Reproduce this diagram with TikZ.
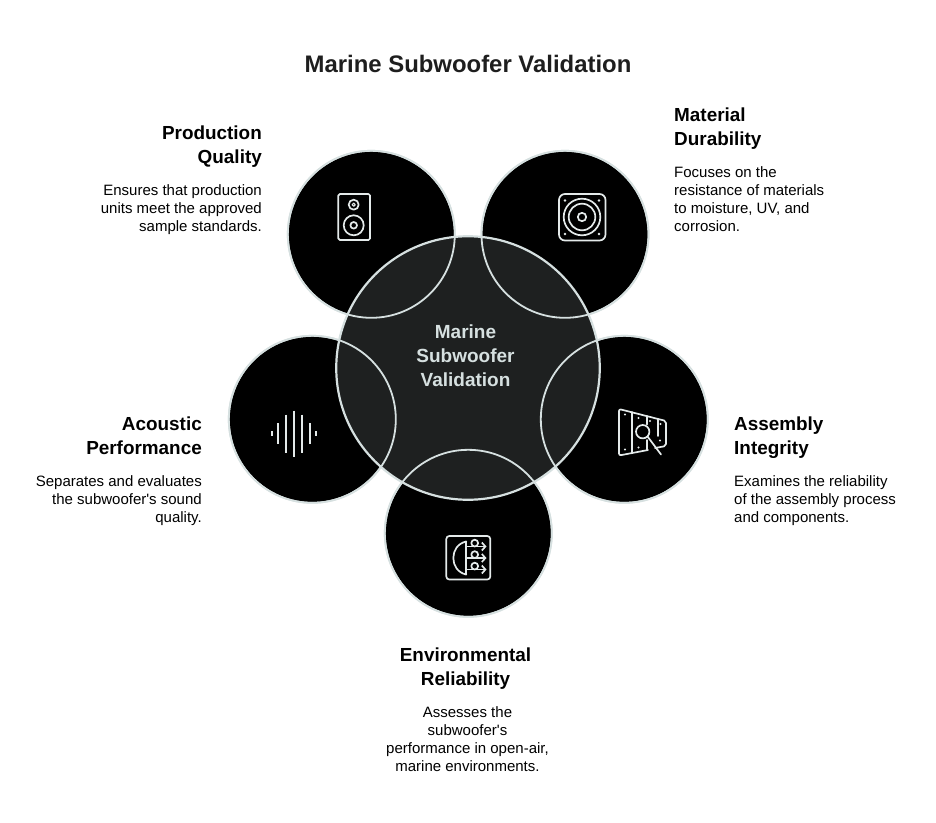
\documentclass[tikz,border=0pt]{standalone}
\usepackage{fontspec}
\setmainfont{Liberation Sans}
\usetikzlibrary{arrows.meta}
\definecolor{ring}{HTML}{D6E0E0}
\definecolor{hub}{HTML}{1E2020}
\definecolor{ink}{HTML}{1E1E1E}
\definecolor{iconc}{HTML}{E4EAEA}
\tikzset{
 petal/.style={circle,draw=ring,line width=1.8pt,fill=black,minimum size=167pt,inner sep=0pt},
 petalline/.style={circle,draw=ring,line width=1.8pt,minimum size=167pt,inner sep=0pt},
 hubc/.style={circle,draw=ring,line width=2.2pt,fill=hub,minimum size=263.5pt,inner sep=0pt},
 head/.style={font=\fontsize{18.9}{24}\selectfont\bfseries,text=black,inner sep=0pt},
 desc/.style={font=\fontsize{15}{18}\selectfont,text=black,inner sep=0pt},
 ico/.style={draw=iconc,line width=1.7pt,line cap=round,line join=round},
 dot/.style={fill=iconc,draw=none},
}
\begin{document}
\begin{tikzpicture}[x=1pt,y=-1pt]
\useasboundingbox (0,0) rectangle (936,822);
\fill[white] (0,0) rectangle (936,822);
\node[font=\fontsize{23.9}{28}\selectfont\bfseries,text=ink,inner sep=0pt] (title) at (468,64) {Marine Subwoofer Validation};
% petals
\node[petal] (pq) at (371.3,234.3) {};
\node[petal] (md) at (565,234.3) {};
\node[petal] (ai) at (624.3,419.3) {};
\node[petal] (er) at (468.3,533.3) {};
\node[petal] (ap) at (312.3,419.3) {};
\node[hubc] (hub) at (468,368) {};
\node[petalline] (pqo) at (pq) {};
\node[petalline] (mdo) at (md) {};
\node[petalline] (aio) at (ai) {};
\node[petalline] (ero) at (er) {};
\node[petalline] (apo) at (ap) {};
\node[font=\fontsize{19}{24}\selectfont\bfseries,text=ring,align=center,inner sep=0pt] (hubt) at (465.5,355.3) {Marine\\Subwoofer\\Validation};
% texts
\node[head,align=right,anchor=north east] (pqh) at (262,126) {Production\\Quality};
\node[desc,align=right,anchor=north east] (pqd) at (262,184.5) {Ensures that production\\units meet the approved\\sample standards.};
\node[head,align=left,anchor=north west] (mdh) at (674,108) {Material\\Durability};
\node[desc,align=left,anchor=north west] (mdd) at (674,166.5) {Focuses on the\\resistance of materials\\to moisture, UV, and\\corrosion.};
\node[head,align=left,anchor=north west] (aih) at (734,417) {Assembly\\Integrity};
\node[desc,align=left,anchor=north west] (aid) at (734,475.5) {Examines the reliability\\of the assembly process\\and components.};
\node[head,align=right,anchor=north east] (aph) at (202,417) {Acoustic\\Performance};
\node[desc,align=right,anchor=north east] (apd) at (202,475.5) {Separates and evaluates\\the subwoofer\textquotesingle s sound\\quality.};
\node[head,align=center,anchor=north] (erh) at (465.5,648) {Environmental\\Reliability};
\node[desc,align=center,anchor=north] (erd) at (467.5,706.5) {Assesses the\\subwoofer\textquotesingle s\\performance in open-air,\\marine environments.};
% speaker icon
\draw[ico,rounded corners=1.5pt] (338.3,194) rectangle (370,240);
\draw[ico] (353.7,204.7) circle (5);
\draw[ico,line width=1.1pt] (353.7,204.7) circle (1.6);
\draw[ico] (353.7,225.3) circle (10);
\draw[ico] (353.7,225.3) circle (3.3);
% woofer icon
\draw[ico,rounded corners=6pt] (559,194) rectangle (605.5,240.5);
\draw[ico] (582,217) circle (18.3);
\draw[ico] (582,217) circle (13.3);
\draw[ico] (582,217) circle (4.2);
\foreach \a/\b in {565/200.5,599/200.5,565/234,599/234}{\fill[dot] (\a,\b) circle (1.3);}
% xylophone icon
\draw[ico,rounded corners=2pt] (648,450) -- (619,455.5) -- (619,409) -- (666,421) -- (666,446) -- (655,448);
\draw[ico] (631.7,412) -- (631.7,453);
\draw[ico] (646.7,416) -- (646.7,424.5);
\draw[ico] (646.7,440) -- (646.7,450);
\draw[ico] (658.3,419) -- (658.3,436);
\draw[ico] (642.7,431.7) circle (6.7);
\draw[ico] (647.5,436.5) -- (661,454.5);
\foreach \a/\b in {625/414.5,625/449.5,638.5/418,638.5/447.5,650/421,660.5/424,660/440.5}{\fill[dot] (\a,\b) circle (1.2);}
% splitter icon
\draw[ico,rounded corners=3pt] (446.3,536) rectangle (490.3,579.5);
\draw[ico] (466.3,541.5) -- (466.3,574.5);
\draw[ico] (466.3,541.5) .. controls (449,545) and (449,571) .. (466.3,574.5);
\foreach \y in {546.5,558,569.5}{
 \draw[ico,-{Straight Barb[length=3.5pt,width=8pt]}] (466.3,\y) -- (486.5,\y);
 \draw[ico] (474.7,\y-3.4) circle (3.4);
}
% waveform icon
\foreach \a/\h in {272/2.5,278/10.5,286/19,294/23,302/19,310/10.5,316/2.5}{
 \draw[draw=iconc,line width=1.6pt] (\a,433.5-\h) -- (\a,433.5+\h);
}
\end{tikzpicture}
\end{document}
